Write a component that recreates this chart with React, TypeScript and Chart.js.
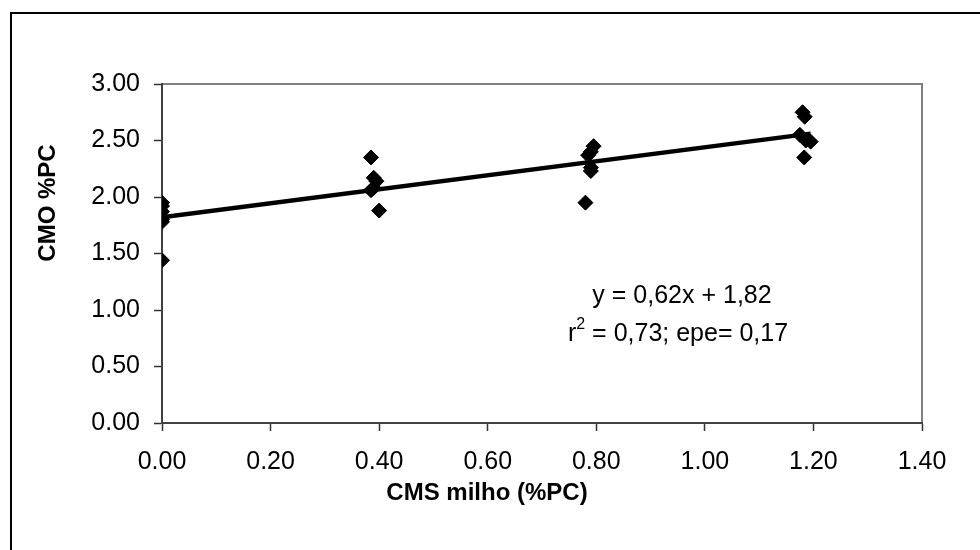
import React, { useEffect, useRef } from "react";
import { Chart, registerables } from "chart.js";

Chart.register(...registerables);

const xTicks = [0, 0.2, 0.4, 0.6, 0.8, 1.0, 1.2, 1.4];
const yTicks = [0, 0.5, 1.0, 1.5, 2.0, 2.5, 3.0];

const cmsMilho = [
  0, 0, 0, 0, 0, 0,
  0.385, 0.39, 0.395, 0.39, 0.385, 0.4,
  0.795, 0.79, 0.785, 0.79, 0.79, 0.78,
  1.18, 1.184, 1.175, 1.186, 1.195, 1.183,
];
const cmoPC = [
  1.95, 1.92, 1.87, 1.8, 1.78, 1.44,
  2.35, 2.17, 2.14, 2.08, 2.06, 1.88,
  2.45, 2.4, 2.37, 2.26, 2.23, 1.95,
  2.75, 2.71, 2.55, 2.5, 2.49, 2.35,
];
const slope = 0.62;
const intercept = 1.82;
const fitX = [0, 1.195];

const FONT = "'Liberation Sans', Arial, sans-serif";

const decorPlugin = {
  id: "decor",
  beforeDraw(chart: any) {
    const { ctx, chartArea } = chart;
    ctx.save();
    ctx.fillStyle = "#fff";
    ctx.fillRect(0, 0, chart.width, chart.height);
    // outer chart border
    ctx.strokeStyle = "#000";
    ctx.lineWidth = 2;
    ctx.beginPath();
    ctx.moveTo(11, chart.height + 5);
    ctx.lineTo(11, 13);
    ctx.lineTo(chart.width + 5, 13);
    ctx.stroke();
    // plot area border top/right
    ctx.strokeStyle = "#808080";
    ctx.lineWidth = 2;
    ctx.beginPath();
    ctx.moveTo(chartArea.left, chartArea.top);
    ctx.lineTo(chartArea.right, chartArea.top);
    ctx.lineTo(chartArea.right, chartArea.bottom);
    ctx.stroke();
    ctx.restore();
  },
  afterDraw(chart: any) {
    const { ctx, chartArea } = chart;
    ctx.save();
    ctx.fillStyle = "#000";
    // x title
    ctx.font = `bold 24px ${FONT}`;
    ctx.textAlign = "center";
    ctx.textBaseline = "middle";
    ctx.fillText("CMS milho (%PC)", chartArea.left + 325, chartArea.bottom + 70);
    // y title
    ctx.save();
    ctx.translate(48, chartArea.top + 119);
    ctx.rotate(-Math.PI / 2);
    ctx.fillText("CMO %PC", 0, 0);
    ctx.restore();
    // equation
    ctx.font = `25px ${FONT}`;
    ctx.fillText("y = 0,62x + 1,82", chartArea.left + 520, chartArea.top + 212);
    const cx = chartArea.left + 516;
    const cy = chartArea.top + 250;
    const p1 = "r";
    const p3 = " = 0,73; epe= 0,17";
    ctx.font = `25px ${FONT}`;
    const w1 = ctx.measureText(p1).width;
    const w3 = ctx.measureText(p3).width;
    ctx.font = `16px ${FONT}`;
    const w2 = ctx.measureText("2").width;
    const total = w1 + w2 + w3;
    let x0 = cx - total / 2;
    ctx.textAlign = "left";
    ctx.font = `25px ${FONT}`;
    ctx.fillText(p1, x0, cy);
    ctx.font = `16px ${FONT}`;
    ctx.fillText("2", x0 + w1, cy - 9);
    ctx.font = `25px ${FONT}`;
    ctx.fillText(p3, x0 + w1 + w2, cy);
    ctx.restore();
  },
};

export default function App() {
  const ref = useRef<HTMLCanvasElement | null>(null);
  useEffect(() => {
    document.body.style.margin = "0";
    const points = cmsMilho.map((x, i) => ({ x, y: cmoPC[i] }));
    const fit = fitX.map((x) => ({ x, y: intercept + slope * x }));
    const chart = new Chart(ref.current as HTMLCanvasElement, {
      type: "scatter",
      data: {
        datasets: [
          {
            type: "line",
            data: fit,
            borderColor: "#000",
            borderWidth: 4.5,
            pointRadius: 0,
            fill: false,
          } as any,
          {
            data: points,
            pointStyle: "rectRot",
            pointRadius: 7.5,
            backgroundColor: "#000",
            borderColor: "#000",
            borderWidth: 1,
          },
        ],
      },
      plugins: [decorPlugin],
      options: {
        responsive: false,
        animation: false,
        layout: { padding: { left: 0, top: 84, right: 58, bottom: 0 } },
        plugins: {
          legend: { display: false },
          tooltip: { enabled: false },
        },
        scales: {
          x: {
            type: "linear",
            min: 0,
            max: 1.4,
            afterFit: (s: any) => {
              s.height = 127;
            },
            afterBuildTicks: (s: any) => {
              s.ticks = xTicks.map((v) => ({ value: v }));
            },
            ticks: {
              color: "#000",
              font: { family: FONT, size: 25 },
              padding: 16,
              callback: (v: any) => Number(v).toFixed(2),
              maxRotation: 0,
            },
            grid: {
              drawOnChartArea: false,
              drawTicks: true,
              tickLength: 8,
              tickColor: "#333",
              tickWidth: 1.5,
            },
            border: { color: "#404040", width: 2 },
          },
          y: {
            type: "linear",
            min: 0,
            max: 3,
            afterFit: (s: any) => {
              s.width = 162;
            },
            afterBuildTicks: (s: any) => {
              s.ticks = yTicks.map((v) => ({ value: v }));
            },
            ticks: {
              color: "#000",
              font: { family: FONT, size: 25 },
              padding: 14,
              callback: (v: any) => Number(v).toFixed(2),
            },
            grid: {
              drawOnChartArea: false,
              drawTicks: true,
              tickLength: 8,
              tickColor: "#333",
              tickWidth: 1.5,
            },
            border: { color: "#404040", width: 2 },
          },
        },
      },
    });
    return () => chart.destroy();
  }, []);
  return (
    <div style={{ position: "absolute", left: 0, top: 0, width: 980, height: 550 }}>
      <canvas ref={ref} width={980} height={550} style={{ width: 980, height: 550 }} />
    </div>
  );
}
